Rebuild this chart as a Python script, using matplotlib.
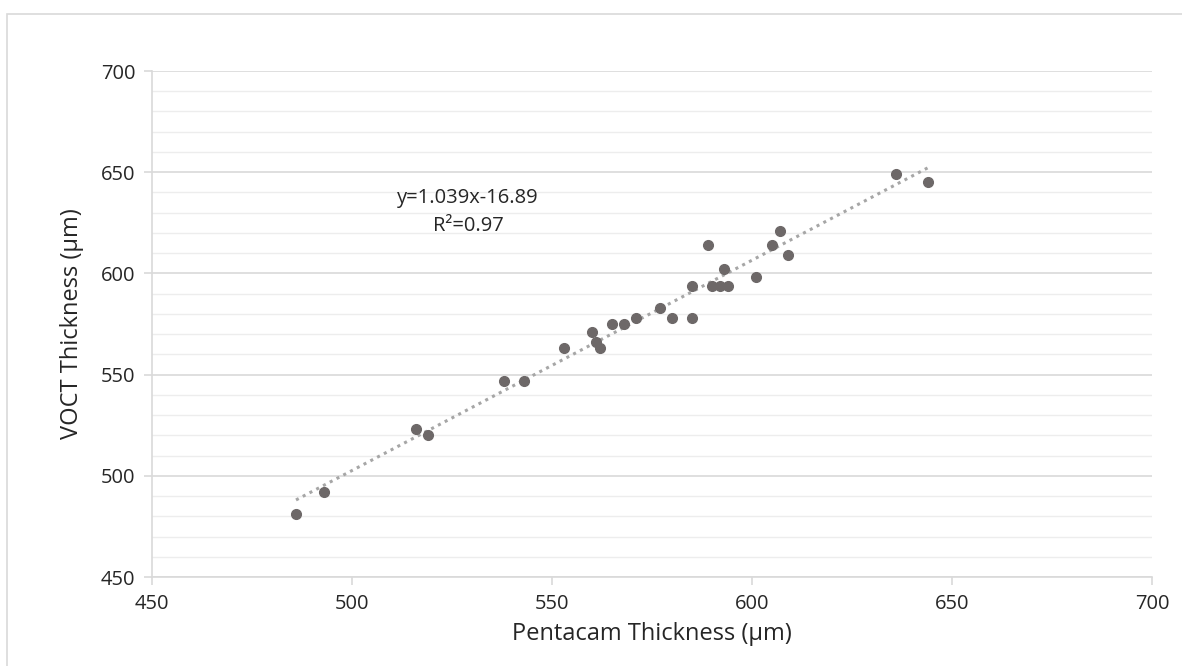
import matplotlib
matplotlib.use("Agg")
import matplotlib.pyplot as plt
from matplotlib.ticker import MultipleLocator
from matplotlib.patches import Rectangle
import numpy as np

pentacam = [486, 493, 516, 519, 538, 543, 553, 560, 561, 562, 565, 568, 571, 577,
            580, 585, 585, 589, 590, 592, 594, 593, 601, 605, 607, 609, 636, 644]
voct = [481, 492, 523, 520, 547, 547, 563, 571, 566, 563, 575, 575, 578, 583,
        578, 594, 578, 614, 594, 594, 594, 602, 598, 614, 621, 609, 649, 645]
slope = 1.039
intercept = -16.89
r2 = 0.97
x_ticks = [450, 500, 550, 600, 650, 700]
y_ticks = [450, 500, 550, 600, 650, 700]

plt.rcParams['font.family'] = ['Open Sans', 'DejaVu Sans']

fig = plt.figure(figsize=(11.82, 6.66), dpi=100)
fig.patches.append(Rectangle((7/1182, -0.2), 1.2, 1.2 - 14/666, transform=fig.transFigure,
                             fill=False, edgecolor='#d9d9d9', linewidth=1.2))
ax = fig.add_axes([152/1182, 1 - 577/666, 1000/1182, 506/666])

ax.set_xlim(450, 700)
ax.set_ylim(450, 700)
ax.set_xticks(x_ticks)
ax.set_yticks(y_ticks)
ax.yaxis.set_minor_locator(MultipleLocator(10))

ax.grid(True, which='major', axis='y', color='#d9d9d9', linewidth=1.2)
ax.grid(True, which='minor', axis='y', color='#ededed', linewidth=1.0)
ax.set_axisbelow(True)

for s in ['top', 'right']:
    ax.spines[s].set_visible(False)
for s in ['left', 'bottom']:
    ax.spines[s].set_color('#d9d9d9')
    ax.spines[s].set_linewidth(1.2)

ax.tick_params(axis='both', which='major', length=6, width=1.2, color='#d9d9d9',
               labelsize=14.5, labelcolor='#262626', pad=6)
ax.tick_params(axis='y', which='minor', length=0)

xs = np.array([min(pentacam), max(pentacam)])
ax.plot(xs, slope * xs + intercept, linestyle=(0, (1, 1.5)), color='#a6a6a6',
        linewidth=2.2, zorder=2)
ax.plot(pentacam, voct, 'o', color='#6d6868', markersize=7, zorder=3)

ax.text(529, 637.3, f"y={slope}x{intercept:+.2f}", ha='center', va='center',
        fontsize=14.5, color='#262626')
ax.text(529, 623.4, f"R\u00b2={r2}", ha='center', va='center', fontsize=14.5, color='#262626')

ax.set_xlabel("Pentacam Thickness (\u03bcm)", fontsize=17, color='#262626', labelpad=6)
ax.set_ylabel("VOCT Thickness (\u03bcm)", fontsize=17, color='#262626', labelpad=12)

fig.savefig("out.png", dpi=100)
